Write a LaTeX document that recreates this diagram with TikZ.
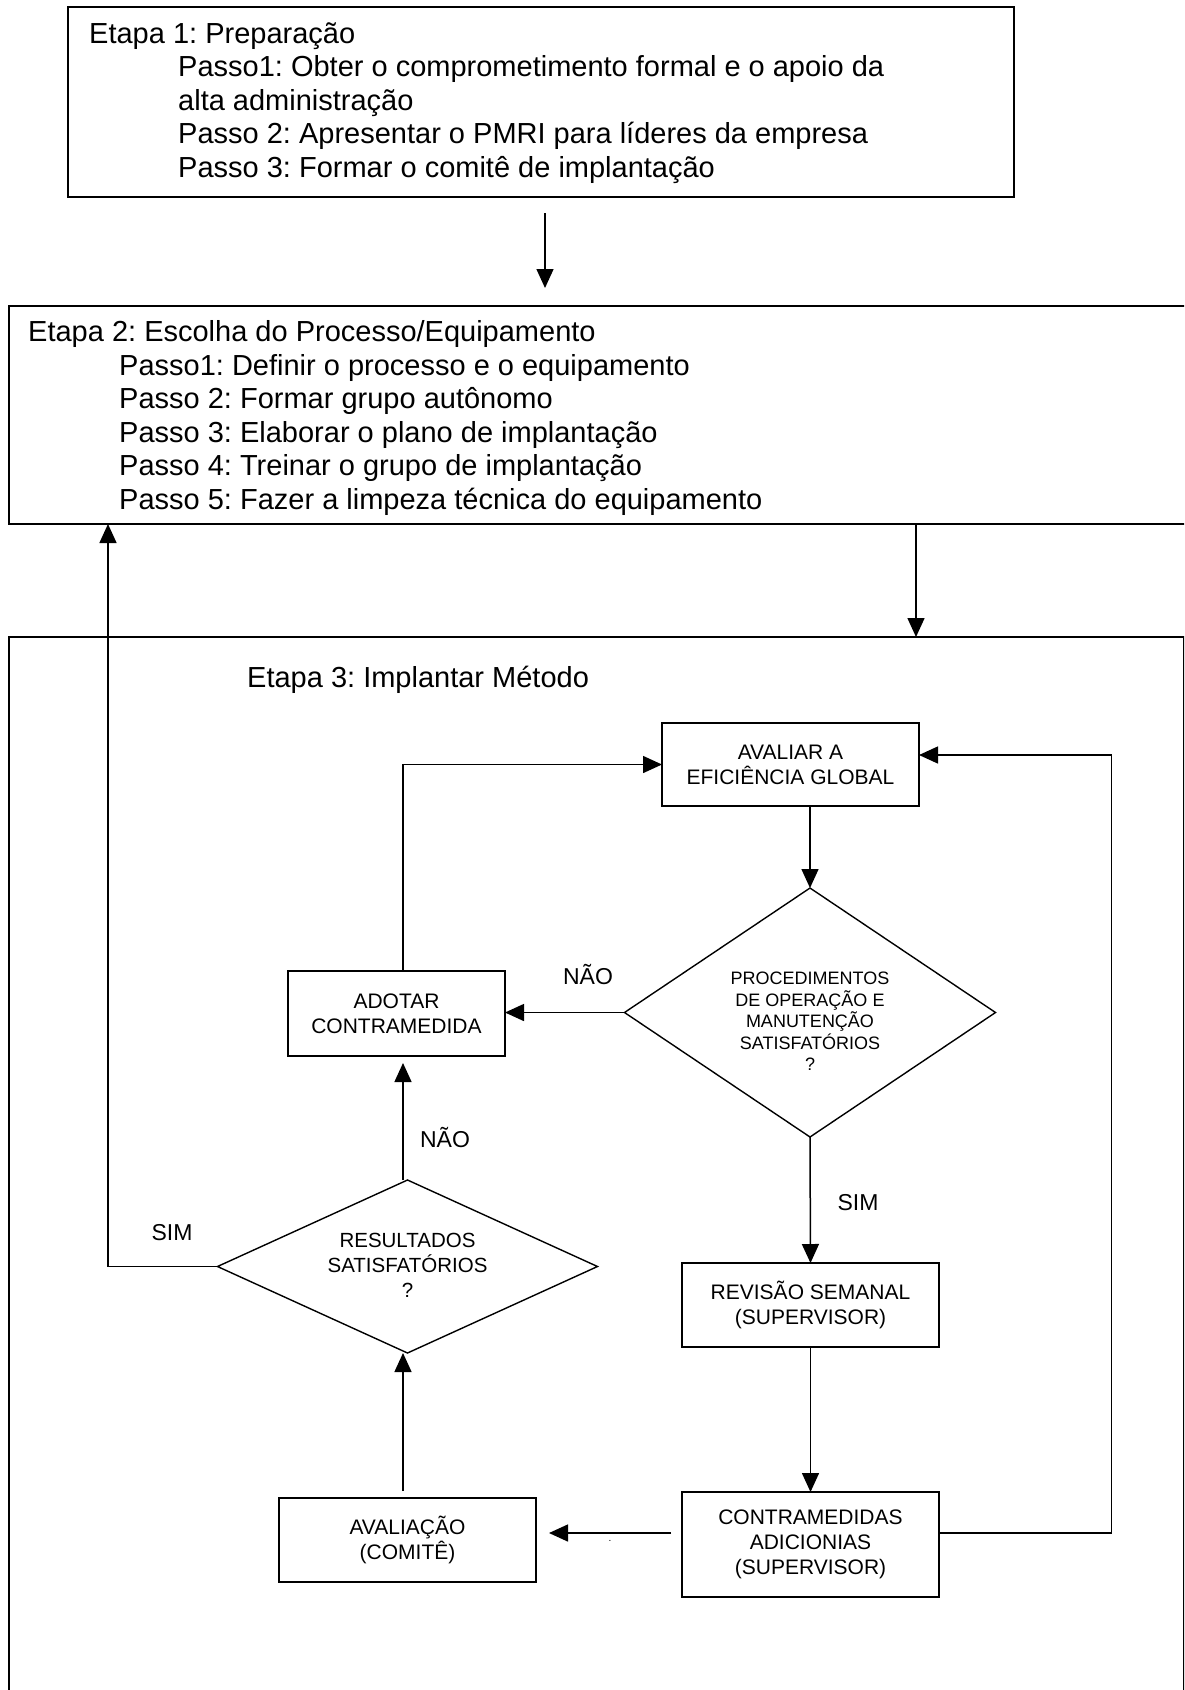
\documentclass[tikz,border=0pt]{standalone}
\usepackage{fontspec}
\setmainfont{Liberation Sans}
\usetikzlibrary{arrows.meta,shapes.geometric,calc}
\frenchspacing
\begin{document}
\begin{tikzpicture}[x=1pt,y=-1pt,
  frame/.style={draw, line width=2pt, inner sep=0pt, outer sep=0pt},
  stagetext/.style={anchor=base west, inner sep=0pt, font=\fontsize{29}{33}\selectfont},
  procbox/.style={draw, line width=1.8pt, inner sep=0pt, outer sep=0pt, align=center,
    font=\fontsize{21}{25}\selectfont},
  decision/.style={draw, diamond, line width=1.4pt, inner sep=0pt, outer sep=0pt},
  dectext/.style={align=center, inner sep=0pt},
  answer/.style={inner sep=0pt, font=\fontsize{23}{27}\selectfont},
  conn/.style={line width=1.5pt, -{Triangle[length=19pt,width=17pt]}},
]
\useasboundingbox (0,0) rectangle (1184,1690);
\fill[white] (0,0) rectangle (1184,1690);
\begin{scope}
\clip (0,0) rectangle (1184,1690);

% stage frames
\node[frame, minimum width=946pt, minimum height=190pt] (b1) at (541,102) {};
\node[frame, minimum width=1181pt, minimum height=218pt] (b2) at (599.5,415) {};
\node[frame, minimum width=1174.5pt, minimum height=1083pt] (b3) at (596.25,1178.5) {};

% stage 1 text
\node[stagetext] (s1h) at (89,43) {Etapa 1: Preparação};
\node[stagetext] (s1a) at (178,76.5) {Passo1: Obter o comprometimento formal e o apoio da};
\node[stagetext] (s1b) at (178,110) {alta administração};
\node[stagetext] (s1c) at (178,143.5) {Passo 2: Apresentar o PMRI para líderes da empresa};
\node[stagetext] (s1d) at (178,177) {Passo 3: Formar o comitê de implantação};

% stage 2 text
\node[stagetext] (s2h) at (28,341.5) {Etapa 2: Escolha do Processo/Equipamento};
\node[stagetext] (s2a) at (119,375) {Passo1: Definir o processo e o equipamento};
\node[stagetext] (s2b) at (119,408.5) {Passo 2: Formar grupo autônomo};
\node[stagetext] (s2c) at (119,442) {Passo 3: Elaborar o plano de implantação};
\node[stagetext] (s2d) at (119,475.5) {Passo 4: Treinar o grupo de implantação};
\node[stagetext] (s2e) at (119,509) {Passo 5: Fazer a limpeza técnica do equipamento};

% stage 3 title
\node[stagetext] (s3h) at (247,687.5) {Etapa 3: Implantar Método};

% flowchart blocks
\node[procbox, minimum width=257pt, minimum height=83pt] (ava) at (790.5,764.5) {AVALIAR A\\EFICIÊNCIA GLOBAL};
\node[procbox, minimum width=217pt, minimum height=85pt] (ado) at (396.5,1013.5) {ADOTAR\\CONTRAMEDIDA};
\node[procbox, minimum width=257pt, minimum height=84pt] (rev) at (810.5,1305) {REVISÃO SEMANAL\\(SUPERVISOR)};
\node[procbox, minimum width=257pt, minimum height=105pt] (cad) at (810.5,1544.5) {CONTRAMEDIDAS\\ADICIONIAS\\(SUPERVISOR)};
\node[procbox, minimum width=257pt, minimum height=84pt] (aval) at (407.5,1540) {AVALIAÇÃO\\(COMITÊ)};

\node[decision, minimum width=371pt, minimum height=249pt] (d1) at (810,1012.5) {};
\node[dectext, font=\fontsize{18}{21.5}\selectfont] (d1t) at (810,1021.5)
  {PROCEDIMENTOS\\DE OPERAÇÃO E\\MANUTENÇÃO\\SATISFATÓRIOS\\?};
\node[decision, minimum width=380pt, minimum height=173pt] (d2) at (407.5,1266.5) {};
\node[dectext, font=\fontsize{20.5}{25}\selectfont] (d2t) at (407.5,1265)
  {RESULTADOS\\SATISFATÓRIOS\\?};

% answers
\node[answer] (nao1) at (588,975) {NÃO};
\node[answer] (nao2) at (445,1137) {NÃO};
\node[answer] (sim1) at (172,1233) {SIM};
\node[answer] (sim2) at (858,1203) {SIM};
\node[inner sep=0pt, font=\fontsize{10}{12}\selectfont] (dot) at (610,1541) {.};

% guide coordinates for the loops
\coordinate (c12) at (545,0);
\coordinate (c23) at (916,0);
\coordinate (xS) at (108,0);
\coordinate (xL) at (403,0);
\coordinate (xR) at (1111.5,0);
\coordinate (yA) at (0,755);
\coordinate (yC) at (0,1533);

% connectors
\draw[conn, shorten <=16pt, shorten >=18pt] (b1.south -| c12) -- (b2.north -| c12);
\draw[conn] (b2.south -| c23) -- (b3.north -| c23);
\draw[conn] (d2.west) -| (b2.south -| xS);
\draw[conn] (ava.south -| d1.north) -- (d1.north);
\draw[conn] (d1.west) -- (d1.west -| ado.east);
\draw[conn] (ado.north -| xL) |- (ava.west);
\draw[conn, shorten >=7pt] (d2.north -| xL) -- (ado.south -| xL);
\draw[conn] (d1.south) -- (rev.north);
\draw[conn] (rev.south) -- (cad.north);
\draw[conn, shorten <=11pt, shorten >=13pt] (cad.west |- yC) -- (aval.east |- yC);
\draw[conn] (cad.east |- yC) -| (xR |- yA) -- (ava.east |- yA);
\draw[conn, shorten <=7pt] (aval.north -| xL) -- (d2.south -| xL);
\end{scope}
\end{tikzpicture}
\end{document}
